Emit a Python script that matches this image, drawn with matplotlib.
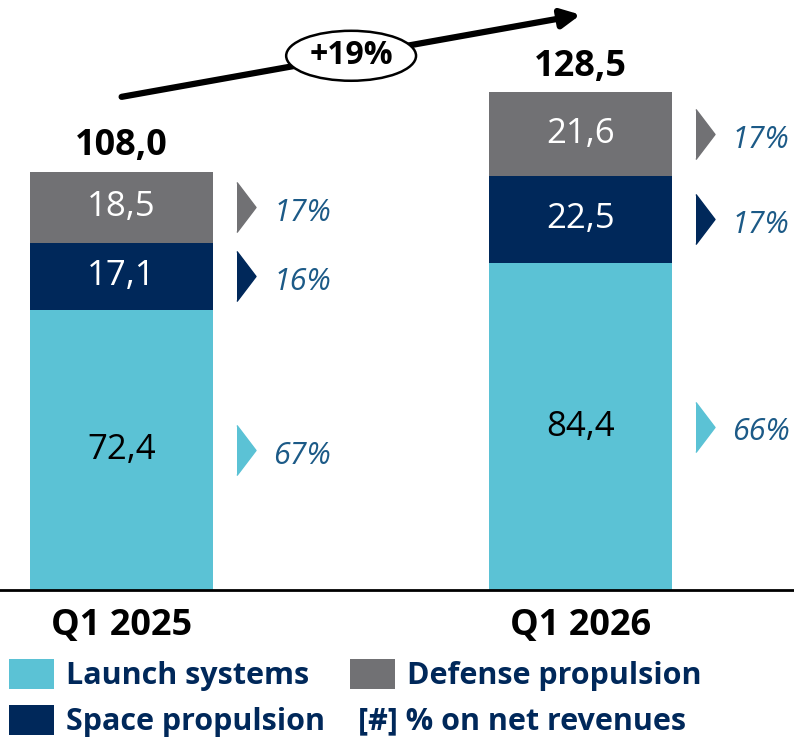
import matplotlib.pyplot as plt
from matplotlib.patches import Ellipse

plt.rcParams['font.family'] = ['Open Sans', 'DejaVu Sans']

# dati
periods = ['Q1 2025', 'Q1 2026']
launch = [72.4, 84.4]
space = [17.1, 22.5]
defense = [18.5, 21.6]
totals = [108.0, 128.5]
pct_launch = ['67%', '66%']
pct_space = ['16%', '17%']
pct_defense = ['17%', '17%']
growth = '+19%'

c_launch = '#5BC2D5'
c_space = '#00285A'
c_defense = '#717174'
c_pct = '#1C5A87'
c_leg = '#00285A'


def fmt(v):
    return f'{v:.1f}'.replace('.', ',')


fig = plt.figure(figsize=(7.94, 7.42), dpi=100)
ax = fig.add_axes([0, 1 - 590 / 742, 1, 590 / 742])

x = list(range(len(periods)))
w = 0.4
b1 = ax.bar(x, launch, w, color=c_launch, label='Launch systems')
bottom2 = launch
b2 = ax.bar(x, space, w, bottom=bottom2, color=c_space, label='Space propulsion')
bottom3 = [a + b for a, b in zip(launch, space)]
b3 = ax.bar(x, defense, w, bottom=bottom3, color=c_defense, label='Defense propulsion')

# etichette nei segmenti
ax.bar_label(b1, labels=[fmt(v) for v in launch], label_type='center', fontsize=25, color='black')
ax.bar_label(b2, labels=[fmt(v) for v in space], label_type='center', fontsize=25, color='white')
ax.bar_label(b3, labels=[fmt(v) for v in defense], label_type='center', fontsize=25, color='white')

# totali
for i, t in enumerate(totals):
    ax.text(i, t + 6.5, fmt(t), ha='center', va='center', fontsize=26, fontweight='bold')

# percentuali con triangolino
tri = [(-0.38, -1), (0.38, 0), (-0.38, 1)]
segs = [(launch, [0] * 2, pct_launch, c_launch),
        (space, bottom2, pct_space, c_space),
        (defense, bottom3, pct_defense, c_defense)]
for vals, bots, pcts, col in segs:
    for i in x:
        yc = bots[i] + vals[i] / 2
        ax.plot(i + 0.271, yc, marker=tri, markersize=36, color=col, linestyle='none')
        ax.text(i + 0.33, yc - 1.5, pcts[i], ha='left', va='center', fontsize=22,
                style='italic', color=c_pct)

# freccia di crescita
y0 = totals[0] + 19.3
y1 = totals[1] + 20
ax.annotate('', xy=(x[1], y1), xytext=(x[0], y0),
            arrowprops=dict(arrowstyle='-|>', lw=4.5, color='black',
                            mutation_scale=28, shrinkA=0, shrinkB=0))
ax.add_patch(Ellipse(((x[0] + x[1]) / 2, (y0 + y1) / 2), 0.283, 12.9,
                     facecolor='white', edgecolor='black', lw=1.8, zorder=3))
ax.text((x[0] + x[1]) / 2, (y0 + y1) / 2, growth, ha='center', va='center',
        fontsize=23, fontweight='bold', zorder=4)

ax.set_xlim(-0.265, 1.465)
ax.set_ylim(0, 152.3)
for s in ['top', 'left', 'right']:
    ax.spines[s].set_visible(False)
ax.spines['bottom'].set_linewidth(2)
ax.set_yticks([])
ax.set_xticks(x)
ax.set_xticklabels(periods, fontsize=26, fontweight='bold')
ax.tick_params(axis='x', length=0, pad=13)

# legenda
fig.legend(handles=[b1, b2, b3], ncol=2, loc='upper left',
           bbox_to_anchor=(0.0, 1 - 650 / 742), frameon=False,
           prop={'size': 22, 'weight': 'bold'}, labelcolor=c_leg,
           handlelength=1.47, handleheight=1.11, handletextpad=0.39,
           columnspacing=0.83, labelspacing=0.45, borderaxespad=0, borderpad=0.3)
fig.text(358 / 794, 1 - 721 / 742, '[#] % on net revenues', fontsize=22,
         fontweight='bold', color=c_leg, va='center')

fig.savefig('out.png', dpi=100)
